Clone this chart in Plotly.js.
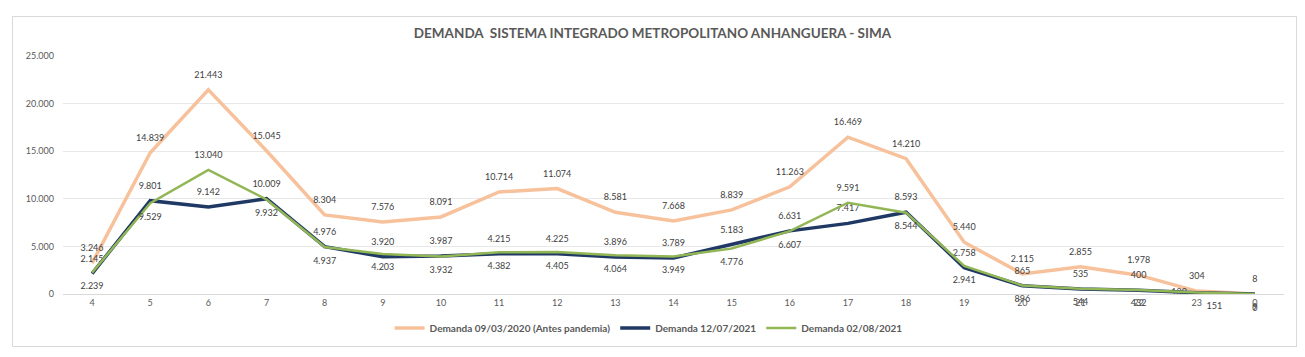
<!DOCTYPE html>
<html>
<head>
<meta charset="utf-8">
<script src="https://cdn.plot.ly/plotly-3.0.1.min.js"></script>
<style>
  html,body{margin:0;padding:0;background:#fff;}
  #wrap{position:relative;width:1305px;height:357px;}
  #frame{position:absolute;left:12px;top:16px;width:1283px;height:329px;border:1px solid #d9d9d9;pointer-events:none;}
  #chart{position:absolute;left:0;top:0;width:1305px;height:357px;}
</style>
</head>
<body>
<div id="wrap"><div id="chart"></div><div id="frame"></div></div>
<script>
const hours = ['4','5','6','7','8','9','10','11','12','13','14','15','16','17','18','19','20','21','22','23','0'];
const demanda2020 = [3246,14839,21443,15045,8304,7576,8091,10714,11074,8581,7668,8839,11263,16469,14210,5440,2115,2855,1978,304,8];
const demanda1207 = [2145,9801,9142,10009,4976,3920,3987,4215,4225,3896,3789,5183,6631,7417,8593,2758,865,535,400,130,0];
const demanda0208 = [2239,9529,13040,9932,4937,4203,3932,4382,4405,4064,3949,4776,6607,9591,8544,2941,896,544,432,151,9];
const seriesNames = ['Demanda 09/03/2020 (Antes pandemia)','Demanda 12/07/2021','Demanda 02/08/2021'];
const yTicks = [0,5000,10000,15000,20000,25000];

const posOrange = hours.map(() => 'top center');
const posBlue = hours.map((h,i) => i === 20 ? 'bottom center' : (i === 19 ? 'middle left' : 'top center'));
const posGreen = hours.map((h,i) => (i === 2 || i === 13) ? 'top center' : (i === 19 ? 'bottom right' : 'bottom center'));

const labelFont = {family:'Lato, sans-serif', size:9, color:'#404040'};
const hiddenMarker = {size:14, color:'rgba(0,0,0,0)', line:{width:0}};

const traces = [
  {x:hours, y:demanda2020, name:seriesNames[0], type:'scatter', mode:'lines+markers+text', marker:hiddenMarker,
   line:{color:'#F7C19B', width:3.5}, texttemplate:'%{y:,}', textposition:posOrange, textfont:labelFont, cliponaxis:false},
  {x:hours, y:demanda1207, name:seriesNames[1], type:'scatter', mode:'lines+markers+text', marker:hiddenMarker,
   line:{color:'#1F3864', width:3.5}, texttemplate:'%{y:,}', textposition:posBlue, textfont:labelFont, cliponaxis:false},
  {x:hours, y:demanda0208, name:seriesNames[2], type:'scatter', mode:'lines+markers+text', marker:hiddenMarker,
   line:{color:'#92B656', width:2.5}, texttemplate:'%{y:,}', textposition:posGreen, textfont:labelFont, cliponaxis:false}
];

const layout = {
  width:1305, height:357,
  margin:{l:63, r:21, t:56, b:63},
  separators:',.',
  paper_bgcolor:'rgba(0,0,0,0)', plot_bgcolor:'rgba(0,0,0,0)',
  font:{family:'Lato, sans-serif', color:'#595959'},
  title:{text:'<b>DEMANDA  SISTEMA INTEGRADO METROPOLITANO ANHANGUERA - SIMA</b>', x:0.5, xref:'container', y:0.907, yanchor:'middle',
         font:{family:'Lato, sans-serif', size:13.5, color:'#595959'}},
  xaxis:{type:'category', range:[-0.5,20.5], showgrid:false, showline:true, linecolor:'#d9d9d9', linewidth:1,
         ticks:'', tickfont:{size:9, color:'#595959'}, fixedrange:true},
  yaxis:{range:[0,25000], tickvals:yTicks, tickformat:',', showgrid:true, gridcolor:'#e8e8e8', gridwidth:1,
         zeroline:false, showline:false, ticks:'', ticklabelstandoff:8, tickfont:{size:9, color:'#595959'}, fixedrange:true},
  showlegend:true,
  legend:{orientation:'h', xref:'container', yref:'container', x:0.497, xanchor:'center', y:0.081, yanchor:'middle',
          font:{family:'Lato, sans-serif', size:10, color:'#595959', weight:'bold'}, itemwidth:30, tracegroupgap:0}
};

Plotly.newPlot('chart', traces, layout, {displayModeBar:false, staticPlot:true});
</script>
</body>
</html>
